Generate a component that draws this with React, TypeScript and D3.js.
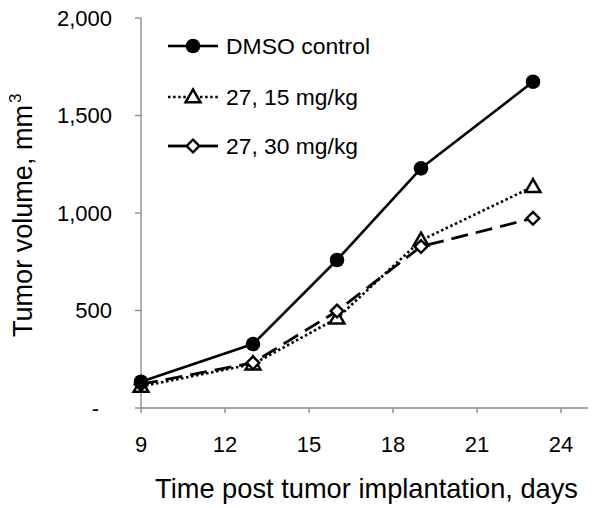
import React from "react";
import * as d3 from "d3";

const days = [9, 13, 16, 19, 23];
const dmsoControl = [135, 328, 759, 1229, 1673];
const dose15 = [110, 225, 460, 860, 1135];
const dose30 = [122, 232, 497, 828, 973];

const xTicks = [9, 12, 15, 18, 21, 24];
const yTicks = [0, 500, 1000, 1500, 2000];

const seriesNames = ["DMSO control", "27, 15 mg/kg", "27, 30 mg/kg"];

const W = 600;
const H = 508;

export default function App() {
  const x = d3.scaleLinear().domain([9, 24]).range([141, 561]);
  const y = d3.scaleLinear().domain([0, 2000]).range([408, 18]);
  const axisColor = "#868686";
  const font = "'Liberation Sans', Arial, sans-serif";

  const line = d3
    .line<number>()
    .x((_, i) => x(days[i]))
    .y((d) => y(d));

  const series = [
    { name: seriesNames[0], values: dmsoControl, dash: "none", width: 2.6, marker: "circle" },
    { name: seriesNames[1], values: dose15, dash: "2.5,2.6", width: 2.6, marker: "triangle" },
    { name: seriesNames[2], values: dose30, dash: "17,8", width: 2.8, marker: "diamond" },
  ];

  const triPath = d3.symbol().type(d3.symbolTriangle).size(95)() as string;
  const diaPath = d3.symbol().type(d3.symbolSquare).size(80)() as string;

  const marker = (kind: string, cx: number, cy: number, key: string) => {
    if (kind === "circle")
      return <circle key={key} cx={cx} cy={cy} r={7.3} fill="#000" />;
    if (kind === "triangle")
      return (
        <path
          key={key}
          d={triPath}
          transform={`translate(${cx},${cy + 1})`}
          fill="#fff"
          stroke="#000"
          strokeWidth={2.5}
          strokeLinejoin="miter"
        />
      );
    return (
      <path
        key={key}
        d={diaPath}
        transform={`translate(${cx},${cy}) rotate(45)`}
        fill="#fff"
        stroke="#000"
        strokeWidth={2.4}
      />
    );
  };

  const yLabel = (v: number) => (v === 0 ? "-" : d3.format(",")(v));

  const legendY = [46, 97, 146];
  const legendTextLen = [144, 132, 132];

  return (
    <svg
      width={W}
      height={H}
      style={{ position: "absolute", left: 0, top: 0, background: "#fff" }}
      fontFamily={font}
    >
      <rect width={W} height={H} fill="#fff" />
      {/* axes */}
      <line x1={141} x2={141} y1={y(2000)} y2={y(0)} stroke={axisColor} strokeWidth={1.3} />
      <line x1={141} x2={588} y1={y(0)} y2={y(0)} stroke={axisColor} strokeWidth={1.3} />
      {yTicks.map((t) => (
        <g key={"yt" + t}>
          <line x1={135} x2={141} y1={y(t)} y2={y(t)} stroke={axisColor} strokeWidth={1.3} />
          <text
            x={t === 0 ? 99 : 112}
            y={y(t)}
            dy="0.36em"
            textAnchor="end"
            fontSize={22}
            fill="#000"
          >
            {yLabel(t)}
          </text>
        </g>
      ))}
      {xTicks.map((t) => (
        <g key={"xt" + t}>
          <line x1={x(t)} x2={x(t)} y1={y(0)} y2={y(0) + 5} stroke={axisColor} strokeWidth={1.3} />
          <text x={x(t)} y={451.5} textAnchor="middle" fontSize={22} fill="#000">
            {t}
          </text>
        </g>
      ))}
      {/* axis titles */}
      <text
        x={155}
        y={498}
        fontSize={28}
        textLength={423}
        lengthAdjust="spacingAndGlyphs"
        fill="#000"
      >
        Time post tumor implantation, days
      </text>
      <g transform="translate(32,337) rotate(-90)">
        <text x={0} y={0} fontSize={28} textLength={232} lengthAdjust="spacingAndGlyphs" fill="#000">
          Tumor volume, mm
        </text>
        <text x={234} y={-11} fontSize={17} fill="#000">
          3
        </text>
      </g>
      {/* lines */}
      {series.map((s) => (
        <path
          key={"l" + s.name}
          d={line(s.values) as string}
          fill="none"
          stroke="#000"
          strokeWidth={s.width}
          strokeDasharray={s.dash}
          strokeLinejoin="round"
        />
      ))}
      {/* markers */}
      {[1, 2, 0].map((si) =>
        series[si].values.map((v, i) => marker(series[si].marker, x(days[i]), y(v), `m${si}-${i}`))
      )}
      {/* legend */}
      {series.map((s, i) => (
        <g key={"lg" + i}>
          <line
            x1={168}
            x2={186}
            y1={legendY[i]}
            y2={legendY[i]}
            stroke="#000"
            strokeWidth={s.width}
            strokeDasharray={s.dash === "none" ? "none" : i === 1 ? s.dash : "none"}
          />
          <line
            x1={200}
            x2={218}
            y1={legendY[i]}
            y2={legendY[i]}
            stroke="#000"
            strokeWidth={s.width}
            strokeDasharray={s.dash === "none" ? "none" : i === 1 ? s.dash : "none"}
          />
          {marker(s.marker, 193, legendY[i], "lm" + i)}
          <text
            x={226}
            y={legendY[i]}
            dy="0.36em"
            fontSize={22}
            textLength={legendTextLen[i]}
            lengthAdjust="spacingAndGlyphs"
            fill="#000"
          >
            {s.name}
          </text>
        </g>
      ))}
    </svg>
  );
}
